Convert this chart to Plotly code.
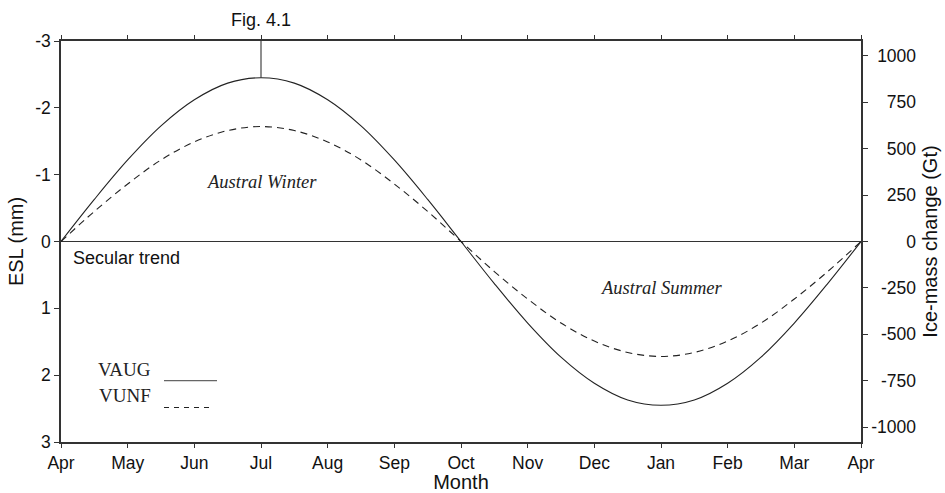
import plotly.graph_objects as go

# ---- data ----
month_labels = ["Apr", "May", "Jun", "Jul", "Aug", "Sep", "Oct",
                "Nov", "Dec", "Jan", "Feb", "Mar", "Apr"]
month_pos = [0, 0.5, 1, 1.5, 2, 2.5, 3, 3.5, 4, 4.5, 5, 5.5, 6,
             6.5, 7, 7.5, 8, 8.5, 9, 9.5, 10, 10.5, 11, 11.5, 12]
vaug = [0, -0.63, -1.22, -1.73, -2.12, -2.37, -2.45, -2.37, -2.12, -1.73, -1.22, -0.63, 0,
        0.63, 1.22, 1.73, 2.12, 2.37, 2.45, 2.37, 2.12, 1.73, 1.22, 0.63, 0]
vunf = [0, -0.45, -0.86, -1.22, -1.49, -1.66, -1.72, -1.66, -1.49, -1.22, -0.86, -0.45, 0,
        0.45, 0.86, 1.22, 1.49, 1.66, 1.72, 1.66, 1.49, 1.22, 0.86, 0.45, 0]
esl_ticks = [-3, -2, -1, 0, 1, 2, 3]
gt_ticks = [1000, 750, 500, 250, 0, -250, -500, -750, -1000]
GT_PER_MM = 360  # ice mass per mm of equivalent sea level
ESL_MAX = 3

SANS = "Liberation Sans, Arial, sans-serif"
SERIF = "Liberation Serif, Times New Roman, serif"
AX = "#333333"
INK = "#222222"

def pad_label(v):
    s = str(v)
    full = "-1000"
    pad = len(full) - len(s)
    if pad <= 0:
        return s
    filler = ("-" + "0" * 3)[:pad] if not s.startswith("-") else "0" * pad
    return '<span style="color:rgba(0,0,0,0)">' + filler + '</span>' + s

gt_text = [pad_label(v) for v in gt_ticks]

# plot-area geometry in pixels (for placing labels in paper units)
L, R, T, B = 61, 861, 41, 442
def px(xp):
    return (xp - L) / (R - L)
def py(yp):
    return (B - yp) / (B - T)

fig = go.Figure()
fig.add_trace(go.Scatter(x=month_pos, y=vaug, mode="lines", name="VAUG",
                         line=dict(color=INK, width=1.1, shape="spline"),
                         showlegend=False, hoverinfo="skip"))
fig.add_trace(go.Scatter(x=month_pos, y=vunf, mode="lines", name="VUNF",
                         line=dict(color=INK, width=1.1, dash="7px,5px", shape="spline"),
                         showlegend=False, hoverinfo="skip"))
# ice-mass scale (right axis), hidden
fig.add_trace(go.Scatter(x=month_pos, y=[-v * GT_PER_MM for v in vaug], yaxis="y2",
                         mode="lines", line=dict(color="rgba(0,0,0,0)"),
                         showlegend=False, hoverinfo="skip"))

jul = month_labels.index("Jul")
fig.add_shape(type="line", xref="x", yref="y", x0=jul, x1=jul,
              y0=-ESL_MAX, y1=vaug[month_pos.index(jul)],
              line=dict(color=AX, width=1.1))

# legend samples
fig.add_shape(type="line", xref="paper", yref="paper", x0=px(164), x1=px(217),
              y0=py(380.7), y1=py(380.7), line=dict(color="#666666", width=1.3))
fig.add_shape(type="line", xref="paper", yref="paper", x0=px(164), x1=px(212),
              y0=py(407.5), y1=py(407.5),
              line=dict(color=INK, width=1.1, dash="5px,5px"))

ann = [
    dict(text="Fig. 4.1", x=jul, y=py(20), xref="x", yref="paper", yanchor="middle",
         showarrow=False, font=dict(family=SANS, size=18, color="#111")),
    dict(text="<i>Austral Winter</i>", x=px(261) * 12, y=-(241.7 - 181.7) / 66.9,
         xref="x", yref="y", showarrow=False, font=dict(family=SERIF, size=18.5, color="#222")),
    dict(text="<i>Austral Summer</i>", x=px(661) * 12, y=(288 - 241.7) / 66.9,
         xref="x", yref="y", showarrow=False, font=dict(family=SERIF, size=18.5, color="#222")),
    dict(text="Secular trend", x=px(71), y=py(258), xref="paper", yref="paper",
         xanchor="left", showarrow=False, font=dict(family=SANS, size=18, color="#111")),
    dict(text="VAUG", x=px(153), y=py(381.7), xref="paper", yref="paper",
         xanchor="right", showarrow=False, font=dict(family=SERIF, size=19, color="#222")),
    dict(text="VUNF", x=px(153), y=py(408), xref="paper", yref="paper",
         xanchor="right", showarrow=False, font=dict(family=SERIF, size=19, color="#222")),
]

fig.update_layout(
    width=945, height=493,
    margin=dict(l=L, r=945 - R, t=T, b=493 - B, autoexpand=False),
    paper_bgcolor="white", plot_bgcolor="white",
    font=dict(family=SANS, size=17.5, color="#111"),
    annotations=ann,
    xaxis=dict(range=[0, 12], tickvals=list(range(13)), ticktext=month_labels,
               showgrid=False, zeroline=False, showline=True, linecolor=AX, linewidth=1.6,
               mirror="ticks", ticks="outside", ticklen=4, tickcolor=AX, tickwidth=1.2,
               automargin=False,
               title=dict(text="Month", font=dict(size=20), standoff=4)),
    yaxis=dict(range=[ESL_MAX, -ESL_MAX], tickvals=esl_ticks, ticktext=[str(v) for v in esl_ticks],
               showgrid=False, zeroline=True, zerolinecolor=AX, zerolinewidth=1.3,
               showline=True, linecolor=AX, linewidth=1.6,
               ticks="outside", ticklen=5, tickcolor=AX, tickwidth=1.2,
               automargin=False,
               title=dict(text="ESL (mm)", font=dict(size=20), standoff=6)),
    yaxis2=dict(range=[-ESL_MAX * GT_PER_MM, ESL_MAX * GT_PER_MM], overlaying="y", side="right",
                tickvals=gt_ticks, ticktext=gt_text, showgrid=False, zeroline=False,
                showline=True, linecolor=AX, linewidth=1.6,
                ticks="outside", ticklen=5, tickcolor=AX, tickwidth=1.2,
                automargin=False,
                title=dict(text="Ice-mass change (Gt)", font=dict(size=20), standoff=8)),
)

fig.write_html("out.html", config={"displayModeBar": False},
               post_script="document.body.style.margin='0';document.body.style.overflow='hidden';")
